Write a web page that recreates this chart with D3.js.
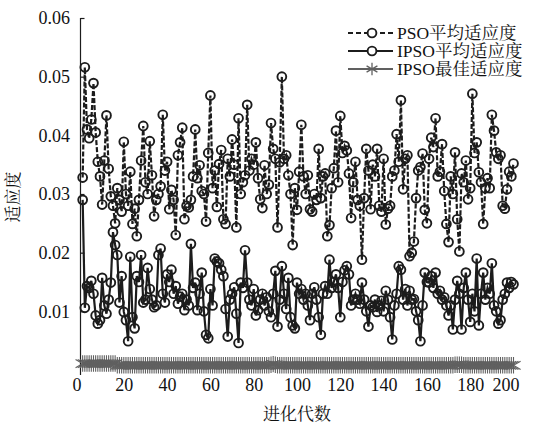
<!DOCTYPE html>
<html><head><meta charset="utf-8">
<script src="https://cdn.jsdelivr.net/npm/d3@7"></script>
<style>
html,body{margin:0;padding:0;background:#fff;}
</style></head>
<body><svg id="c" width="554" height="423"></svg>
<script>
const psoAvg = [0.0328,0.0516,0.0410,0.0395,0.0427,0.0489,0.0405,0.0355,0.0330,0.0282,
0.0357,0.0434,0.0343,0.0296,0.0280,0.0250,0.0310,0.0290,0.0270,0.0389,
0.0300,0.0280,0.0338,0.0249,0.0275,0.0228,0.0290,0.0357,0.0416,0.0320,
0.0300,0.0390,0.0332,0.0262,0.0290,0.0300,0.0313,0.0435,0.0340,0.0355,
0.0274,0.0307,0.0290,0.0230,0.0366,0.0388,0.0413,0.0257,0.0280,0.0277,
0.0290,0.0330,0.0410,0.0327,0.0349,0.0305,0.0300,0.0253,0.0370,0.0468,
0.0310,0.0340,0.0278,0.0351,0.0375,0.0257,0.0249,0.0360,0.0330,0.0393,
0.0350,0.0243,0.0429,0.0300,0.0320,0.0332,0.0452,0.0340,0.0360,0.0350,
0.0388,0.0327,0.0291,0.0276,0.0349,0.0300,0.0316,0.0421,0.0377,0.0360,
0.0243,0.0354,0.0500,0.0360,0.0366,0.0332,0.0300,0.0213,0.0310,0.0273,
0.0338,0.0418,0.0330,0.0300,0.0332,0.0274,0.0270,0.0300,0.0290,0.0377,
0.0293,0.0330,0.0335,0.0228,0.0247,0.0310,0.0344,0.0408,0.0320,0.0433,
0.0370,0.0382,0.0374,0.0335,0.0259,0.0320,0.0355,0.0290,0.0280,0.0188,
0.0293,0.0377,0.0340,0.0274,0.0350,0.0330,0.0377,0.0280,0.0270,0.0360,
0.0248,0.0275,0.0280,0.0330,0.0340,0.0402,0.0355,0.0460,0.0308,0.0360,
0.0366,0.0194,0.0200,0.0219,0.0293,0.0340,0.0346,0.0369,0.0273,0.0250,
0.0360,0.0396,0.0380,0.0429,0.0330,0.0338,0.0385,0.0305,0.0249,0.0218,
0.0330,0.0300,0.0371,0.0257,0.0202,0.0335,0.0320,0.0357,0.0291,0.0310,
0.0471,0.0370,0.0388,0.0337,0.0320,0.0249,0.0310,0.0327,0.0310,0.0435,
0.0408,0.0371,0.0360,0.0366,0.0280,0.0275,0.0308,0.0338,0.0330,0.0352];

const ipsoAvg = [0.0290,0.0106,0.0143,0.0140,0.0152,0.0130,0.0093,0.0079,0.0085,0.0157,
0.0110,0.0096,0.0120,0.0149,0.0235,0.0213,0.0196,0.0115,0.0160,0.0099,
0.0085,0.0049,0.0193,0.0090,0.0071,0.0160,0.0150,0.0196,0.0115,0.0120,
0.0174,0.0138,0.0120,0.0107,0.0110,0.0196,0.0207,0.0130,0.0115,0.0163,
0.0150,0.0171,0.0130,0.0143,0.0113,0.0125,0.0130,0.0102,0.0120,0.0110,
0.0215,0.0140,0.0149,0.0102,0.0130,0.0166,0.0100,0.0060,0.0054,0.0138,
0.0110,0.0190,0.0185,0.0182,0.0171,0.0160,0.0104,0.0057,0.0120,0.0130,
0.0141,0.0096,0.0046,0.0149,0.0140,0.0204,0.0149,0.0120,0.0110,0.0138,
0.0093,0.0102,0.0120,0.0130,0.0110,0.0124,0.0100,0.0090,0.0130,0.0169,
0.0074,0.0120,0.0177,0.0130,0.0104,0.0157,0.0090,0.0076,0.0071,0.0149,
0.0130,0.0138,0.0120,0.0130,0.0110,0.0085,0.0130,0.0141,0.0120,0.0090,
0.0060,0.0130,0.0143,0.0130,0.0188,0.0140,0.0150,0.0163,0.0140,0.0090,
0.0150,0.0170,0.0177,0.0163,0.0110,0.0120,0.0130,0.0120,0.0113,0.0149,
0.0120,0.0100,0.0074,0.0110,0.0107,0.0120,0.0099,0.0110,0.0118,0.0100,
0.0135,0.0120,0.0090,0.0052,0.0110,0.0130,0.0177,0.0171,0.0120,0.0138,
0.0110,0.0135,0.0120,0.0121,0.0100,0.0085,0.0049,0.0110,0.0166,0.0150,
0.0149,0.0160,0.0140,0.0166,0.0130,0.0135,0.0120,0.0124,0.0110,0.0093,
0.0110,0.0069,0.0120,0.0152,0.0130,0.0069,0.0140,0.0166,0.0120,0.0082,
0.0130,0.0100,0.0190,0.0076,0.0130,0.0166,0.0120,0.0140,0.0130,0.0182,
0.0110,0.0100,0.0079,0.0085,0.0120,0.0130,0.0149,0.0140,0.0150,0.0146];

const ipsoBest = [0.0011,0.0011,0.0011,0.0011,0.0011,0.0011,0.0011,0.0011,0.0011,0.0011,
0.0011,0.0011,0.0011,0.0011,0.0011,0.0011,0.0008,0.0008,0.0008,0.0008,
0.0008,0.0008,0.0008,0.0008,0.0008,0.0008,0.0008,0.0008,0.0008,0.0008,
0.0008,0.0008,0.0008,0.0008,0.0008,0.0008,0.0008,0.0008,0.0008,0.0008,
0.0008,0.0008,0.0008,0.0008,0.0008,0.0008,0.0008,0.0008,0.0008,0.0008,
0.0008,0.0008,0.0008,0.0008,0.0008,0.0008,0.0008,0.0008,0.0008,0.0008,
0.0008,0.0008,0.0008,0.0008,0.0008,0.0008,0.0008,0.0008,0.0008,0.0008,
0.0008,0.0008,0.0008,0.0008,0.0008,0.0008,0.0008,0.0008,0.0008,0.0008,
0.0008,0.0008,0.0008,0.0008,0.0008,0.0008,0.0008,0.0009,0.0010,0.0009,
0.0008,0.0008,0.0008,0.0008,0.0008,0.0008,0.0008,0.0008,0.0008,0.0008,
0.0008,0.0008,0.0008,0.0008,0.0008,0.0008,0.0008,0.0008,0.0008,0.0008,
0.0008,0.0008,0.0008,0.0008,0.0008,0.0008,0.0008,0.0008,0.0008,0.0008,
0.0008,0.0008,0.0008,0.0008,0.0008,0.0008,0.0008,0.0008,0.0008,0.0008,
0.0008,0.0008,0.0008,0.0008,0.0008,0.0008,0.0008,0.0008,0.0008,0.0008,
0.0008,0.0008,0.0008,0.0008,0.0008,0.0008,0.0008,0.0008,0.0008,0.0008,
0.0008,0.0008,0.0008,0.0008,0.0008,0.0008,0.0008,0.0008,0.0008,0.0008,
0.0008,0.0008,0.0008,0.0008,0.0008,0.0008,0.0008,0.0008,0.0008,0.0008,
0.0008,0.0008,0.0009,0.0009,0.0009,0.0009,0.0008,0.0008,0.0008,0.0008,
0.0008,0.0008,0.0008,0.0008,0.0008,0.0008,0.0008,0.0008,0.0008,0.0008,
0.0008,0.0008,0.0008,0.0008,0.0008,0.0008,0.0008,0.0008,0.0008,0.0008];

const xTicks = [0,20,40,60,80,100,120,140,160,180,200];
const yTicks = [0.01,0.02,0.03,0.04,0.05,0.06];
const seriesNames = ["PSO平均适应度","IPSO平均适应度","IPSO最佳适应度"];
const xTitle = "进化代数";
const yTitle = "适应度";

const FONT = "'Liberation Serif','Times New Roman','Noto Serif CJK SC','Noto Sans CJK SC',serif";
const svg = d3.select("#c");
const x = d3.scaleLinear().domain([0,200]).range([80.5,513.5]);
const y = d3.scaleLinear().domain([0,0.06]).range([370,18]);
const gens = d3.range(1, psoAvg.length+1);
const ink = "#1c1c1c";
const grey = "#606060";

// y axis
const yAxis = svg.append("g").attr("transform",`translate(${x(0)},0)`)
  .call(d3.axisRight(y).tickValues(yTicks).tickSize(4).tickFormat(""));
yAxis.select(".domain").attr("stroke",ink).attr("stroke-width",1.2).attr("d",`M0,${y(0.06)}V${y(0)+5}`);
yAxis.selectAll(".tick line").attr("stroke",ink).attr("stroke-width",1.2);
svg.append("g").selectAll("text").data(yTicks).join("text")
  .attr("x",70).attr("y",d=>y(d)).attr("dy","0.35em").attr("text-anchor","end")
  .style("font-family",FONT).style("font-size","18px").attr("fill","#111")
  .text(d=>d3.format(".2f")(d));

// x axis labels
const xAxis = svg.append("g").attr("transform",`translate(0,376)`)
  .call(d3.axisBottom(x).tickValues(xTicks).tickSize(0).tickPadding(0).tickFormat(d3.format("d")));
xAxis.select(".domain").remove();
xAxis.selectAll("text").style("font-size","18px").attr("fill","#111")
  .style("font-family",FONT).attr("dy","0.85em")
  .attr("dx",d=>d===0?-4:(d===200?-8:0));

svg.append("text").attr("x",297).attr("y",420).attr("text-anchor","middle")
  .style("font-family",FONT).style("font-size","17px").attr("fill","#111").text(xTitle);
svg.append("text").attr("transform","translate(19,197) rotate(-90)").attr("text-anchor","middle")
  .style("font-family",FONT).style("font-size","17px").attr("fill","#111").text(yTitle);

const line = d3.line().x((d,i)=>x(gens[i])).y(d=>y(d));

// IPSO best: stars (dense band near zero)
const star = d3.symbol().type(d3.symbolAsterisk).size(190);
const starSmall = d3.symbol().type(d3.symbolAsterisk).size(110);
svg.append("path").datum(ipsoBest).attr("d",line).attr("fill","none")
  .attr("stroke",grey).attr("stroke-width",2.5);
svg.append("g").selectAll("path").data(ipsoBest).join("path")
  .attr("transform",(d,i)=>`translate(${x(gens[i])},${y(d)})`).attr("d",star)
  .attr("fill","none").attr("stroke",grey).attr("stroke-width",1.1);

// PSO avg: dashed with circles
svg.append("path").datum(psoAvg).attr("d",line).attr("fill","none")
  .attr("stroke",ink).attr("stroke-width",2.2).attr("stroke-dasharray","5,2");
svg.append("g").selectAll("circle").data(psoAvg).join("circle")
  .attr("cx",(d,i)=>x(gens[i])).attr("cy",d=>y(d)).attr("r",4.4)
  .attr("fill","none").attr("stroke",ink).attr("stroke-width",1.9);

// IPSO avg: solid with circles
svg.append("path").datum(ipsoAvg).attr("d",line).attr("fill","none")
  .attr("stroke",ink).attr("stroke-width",2.2);
svg.append("g").selectAll("circle").data(ipsoAvg).join("circle")
  .attr("cx",(d,i)=>x(gens[i])).attr("cy",d=>y(d)).attr("r",4.4)
  .attr("fill","none").attr("stroke",ink).attr("stroke-width",1.9);

// legend
const lg = svg.append("g");
const rows = [33,51,69];
seriesNames.forEach((nm,i)=>{
  const ry = rows[i];
  const ln = lg.append("line").attr("x1",348).attr("x2",393).attr("y1",ry).attr("y2",ry)
    .attr("stroke",i===2?grey:ink).attr("stroke-width",2.2);
  if(i===0) ln.attr("stroke-dasharray","5,3");
  if(i<2) lg.append("circle").attr("cx",372).attr("cy",ry).attr("r",4.4).attr("fill","#fff").attr("stroke",ink).attr("stroke-width",1.9);
  else lg.append("path").attr("transform",`translate(372,${ry})`).attr("d",starSmall).attr("fill","none").attr("stroke",grey).attr("stroke-width",1.3);
  lg.append("text").attr("x",397).attr("y",ry).attr("dy","0.35em")
    .style("font-family",FONT).style("font-size","17.5px").attr("fill","#111").text(nm);
});
</script></body></html>
